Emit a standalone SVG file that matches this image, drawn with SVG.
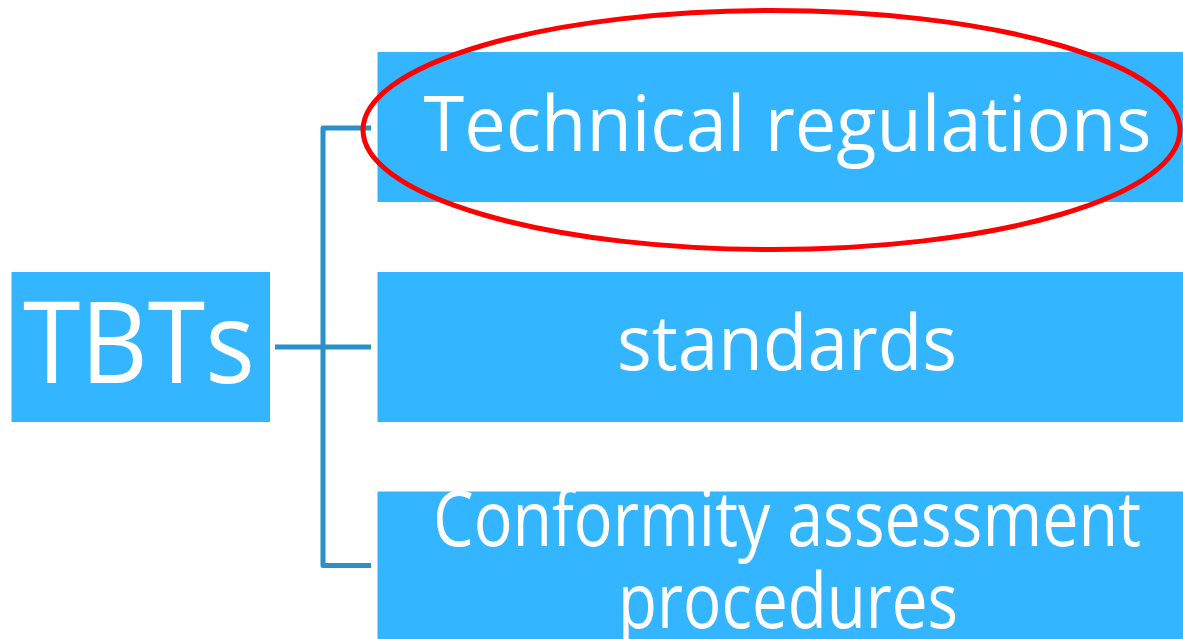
<svg xmlns="http://www.w3.org/2000/svg" width="1183" height="639" viewBox="0 0 1183 639">
<style>
.box{fill:#33B5FF}
.lbl{fill:#FFFFFF;font-family:"Open Sans","Noto Sans",sans-serif;text-anchor:middle}
.conn{fill:none;stroke:#2B8FC9;stroke-width:5;stroke-linejoin:round}
</style>
<rect width="1183" height="639" fill="#FFFFFF"/>
<g id="connectors">
<path class="conn" d="M275,347 H371"/>
<path class="conn" d="M371,128 H323 V565.5 H371"/>
</g>
<g id="tbts">
<rect class="box" x="11.5" y="272" width="258.5" height="150"/>
<text class="lbl" x="139" y="383" font-size="113" textLength="232" lengthAdjust="spacingAndGlyphs">TBTs</text>
</g>
<g id="technical-regulations">
<rect class="box" x="377.5" y="52" width="805.5" height="150"/>
<text class="lbl" x="787.5" y="151" font-size="76" textLength="728" lengthAdjust="spacingAndGlyphs">Technical regulations</text>
</g>
<g id="standards">
<rect class="box" x="377.5" y="272" width="805.5" height="150"/>
<text class="lbl" x="787" y="370" font-size="76" textLength="340" lengthAdjust="spacingAndGlyphs">standards</text>
</g>
<g id="conformity">
<rect class="box" x="377.5" y="491.5" width="805.5" height="160"/>
<text class="lbl" x="787" y="546" font-size="76" textLength="708" lengthAdjust="spacingAndGlyphs">Conformity assessment</text>
<text class="lbl" x="788" y="628" font-size="76" textLength="340" lengthAdjust="spacingAndGlyphs">procedures</text>
</g>
<g id="highlight">
<ellipse cx="771.5" cy="130" rx="408.5" ry="119.5" fill="none" stroke="#FF0000" stroke-width="5"/>
</g>
</svg>
